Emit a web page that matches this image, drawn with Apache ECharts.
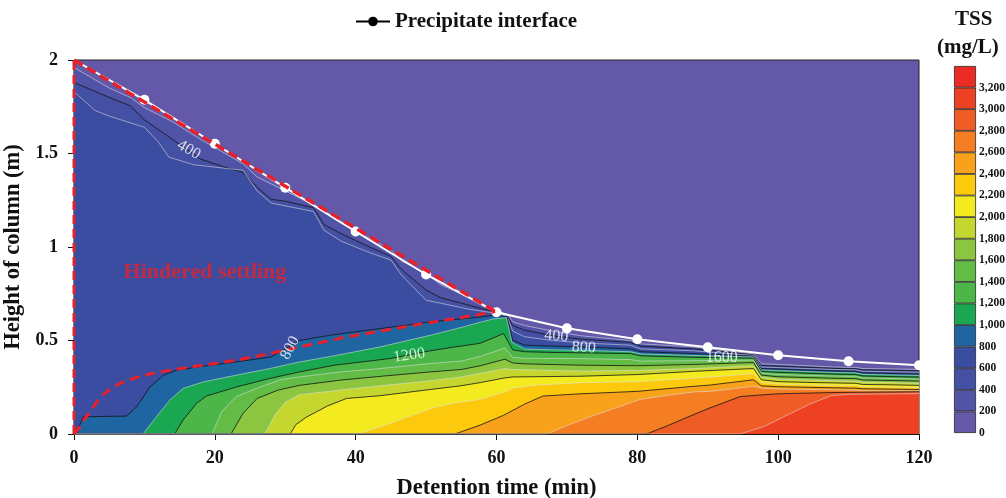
<!DOCTYPE html>
<html>
<head>
<meta charset="utf-8">
<script src="https://cdn.jsdelivr.net/npm/echarts@6/dist/echarts.min.js"></script>
<style>
  html, body { margin: 0; padding: 0; background: #fff; }
  #chart { width: 1006px; height: 498px; }
</style>
</head>
<body>
<div id="chart"></div>
<script>
// precipitate interface (white line with markers)
const interfaceTime = [0, 10, 20, 30, 40, 50, 60, 70, 80, 90, 100, 110, 120];
const interfaceHeight = [2.0, 1.787, 1.552, 1.317, 1.083, 0.853, 0.651, 0.565, 0.507, 0.464, 0.421, 0.389, 0.368];

// red dashed boundary of the hindered settling zone (lower curve)
const hinderedCurve = [[0, 0], [0.85, 0.039], [1.5, 0.08], [2.3, 0.119], [3.2, 0.17], [4.2, 0.212], [5.3, 0.245], [6.5, 0.27],
  [7.7, 0.288], [8.9, 0.302], [11, 0.323], [13.6, 0.341], [18.4, 0.368], [23.1, 0.395], [27.8, 0.43], [32.1, 0.466],
  [38.7, 0.519], [48.2, 0.581], [57.7, 0.64], [59.8, 0.655]];

// contour boundaries: height below which TSS exceeds the level, [time, height]
const tss200 = [[0, 1.96], [5, 1.85], [8, 1.8], [10, 1.745], [14, 1.67], [18, 1.575], [24, 1.445], [26, 1.375], [30, 1.3],
  [34, 1.225], [35.5, 1.185], [38, 1.125], [42, 1.045], [45, 0.985], [46.5, 0.925], [50, 0.86], [52, 0.8], [56, 0.73],
  [59.5, 0.67], [61.5, 0.64], [62.3, 0.6], [64, 0.58], [68, 0.55], [72, 0.525], [79, 0.5], [80.5, 0.482], [88, 0.466],
  [96.5, 0.428], [97.6, 0.375], [100, 0.372], [104, 0.365], [108, 0.358], [111, 0.356], [112, 0.35], [116, 0.348], [120, 0.345]];
const tss400 = [[0, 1.88], [5, 1.8], [8, 1.755], [10, 1.68], [14, 1.575], [18, 1.47], [22, 1.42], [24, 1.4], [26, 1.32],
  [28, 1.255], [30, 1.245], [34, 1.21], [35.5, 1.12], [38, 1.07], [42, 1.0], [45, 0.95], [46.5, 0.88], [50, 0.77], [52, 0.73],
  [56, 0.69], [59.5, 0.655], [61.5, 0.635], [62.3, 0.58], [64, 0.555], [68, 0.525], [72, 0.507], [79, 0.49], [80.5, 0.47],
  [88, 0.455], [96.5, 0.424], [97.6, 0.366], [100, 0.363], [104, 0.357], [108, 0.351], [111, 0.349], [112, 0.343], [116, 0.341], [120, 0.338]];
const tss600 = [[0, 1.83], [3, 1.73], [5, 1.7], [10, 1.64], [12, 1.56], [13.5, 1.48], [17, 1.44], [24, 1.41], [26, 1.3],
  [28, 1.235], [34, 1.19], [35.5, 1.09], [38, 1.03], [42, 0.97], [45, 0.93], [46.5, 0.85], [50, 0.715], [52, 0.7], [56, 0.668],
  [59.5, 0.648], [61.5, 0.63], [62.3, 0.55], [64, 0.52], [68, 0.5], [72, 0.487], [79, 0.475], [80.5, 0.455], [88, 0.445],
  [96.5, 0.42], [97.6, 0.358], [100, 0.355], [104, 0.35], [108, 0.345], [111, 0.343], [112, 0.335], [116, 0.333], [120, 0.33]];
const tss800 = [[0, 0], [0.3, 0], [1.3, 0.092], [7.5, 0.096], [8.9, 0.146], [10.8, 0.252], [12.7, 0.315], [14.6, 0.341],
  [18.4, 0.363], [23.1, 0.386], [28, 0.412], [30, 0.455], [32, 0.5], [36.4, 0.528], [43.5, 0.564], [50.6, 0.599], [57.7, 0.626],
  [59.5, 0.635], [61.5, 0.628], [62.3, 0.5], [64, 0.475], [68, 0.47], [72, 0.466], [79, 0.455], [80.5, 0.44], [88, 0.43],
  [96.5, 0.416], [97.6, 0.35], [100, 0.347], [104, 0.342], [108, 0.337], [111, 0.335], [112, 0.327], [116, 0.324], [120, 0.321]];
const tss1000 = [[0, 0], [9.8, 0], [11.7, 0.092], [13.6, 0.181], [15.5, 0.244], [18.4, 0.279], [23.1, 0.315], [27.8, 0.35],
  [32, 0.385], [36.5, 0.415], [43.5, 0.466], [50.6, 0.528], [55, 0.57], [57.7, 0.598], [59.5, 0.615], [61.4, 0.622], [62.2, 0.49],
  [64, 0.455], [68, 0.45], [72, 0.448], [79, 0.44], [80.5, 0.428], [88, 0.42], [96.5, 0.412], [97.6, 0.342], [100, 0.339],
  [104, 0.334], [108, 0.329], [111, 0.327], [112, 0.319], [116, 0.316], [120, 0.313]];
const tss1200 = [[0, 0], [14.3, 0], [15.5, 0.075], [17.4, 0.164], [18.8, 0.203], [23.1, 0.252], [27.8, 0.297], [32, 0.332],
  [37, 0.368], [45, 0.404], [50.6, 0.445], [54, 0.465], [57.7, 0.485], [61, 0.537], [62.3, 0.45], [64, 0.44], [68, 0.436],
  [72, 0.434], [79, 0.43], [80.5, 0.418], [88, 0.41], [96.5, 0.405], [97.6, 0.335], [100, 0.33], [104, 0.325], [108, 0.32],
  [111, 0.318], [112, 0.31], [116, 0.307], [120, 0.304]];
const tss1400 = [[0, 0], [19.6, 0], [21, 0.12], [23, 0.2], [26, 0.245], [29.3, 0.29], [32, 0.305], [37.8, 0.332], [43.5, 0.35],
  [50.6, 0.377], [55, 0.39], [57.7, 0.415], [61.2, 0.46], [62.3, 0.41], [64, 0.405], [72, 0.403], [79, 0.398], [80.5, 0.39],
  [88, 0.392], [96.5, 0.395], [97.6, 0.325], [100, 0.318], [104, 0.314], [108, 0.31], [111, 0.308], [112, 0.3], [116, 0.297], [120, 0.294]];
const tss1600 = [[0, 0], [22.3, 0], [24, 0.11], [26, 0.19], [29, 0.235], [32, 0.26], [37.8, 0.288], [44, 0.31], [50.6, 0.332],
  [55, 0.345], [57.7, 0.365], [61.2, 0.4], [62.3, 0.38], [64, 0.375], [72, 0.368], [80, 0.365], [88, 0.372], [96.5, 0.382],
  [97.6, 0.315], [100, 0.306], [104, 0.302], [108, 0.298], [111, 0.296], [112, 0.289], [116, 0.286], [120, 0.283]];
const tss1800 = [[0, 0], [27.1, 0], [28.5, 0.1], [30, 0.17], [32, 0.21], [37.8, 0.235], [44, 0.26], [50.6, 0.285], [55, 0.305],
  [57.7, 0.325], [61.2, 0.35], [62.3, 0.345], [72, 0.337], [80, 0.34], [88, 0.35], [96.5, 0.365], [97.6, 0.303], [100, 0.293],
  [104, 0.289], [108, 0.285], [111, 0.283], [112, 0.277], [116, 0.275], [120, 0.272]];
const tss2000 = [[0, 0], [30.7, 0], [31.5, 0.05], [33, 0.09], [36, 0.15], [38.7, 0.19], [43.5, 0.205], [50.6, 0.238], [55, 0.258],
  [57.7, 0.275], [61.2, 0.3], [62.3, 0.305], [72, 0.309], [80, 0.318], [88, 0.335], [96.5, 0.35], [97.6, 0.29], [100, 0.28],
  [104, 0.276], [108, 0.273], [111, 0.271], [112, 0.265], [116, 0.263], [120, 0.26]];
const tss2200 = [[0, 0], [40.3, 0], [44, 0.045], [47.5, 0.092], [51, 0.14], [54, 0.165], [57.7, 0.185], [61.2, 0.225], [62.3, 0.245],
  [66, 0.262], [72, 0.274], [80, 0.28], [88, 0.298], [96.5, 0.322], [97.6, 0.275], [100, 0.267], [104, 0.263], [108, 0.26],
  [111, 0.258], [112, 0.253], [116, 0.251], [120, 0.249]];
const tss2400 = [[0, 0], [54.1, 0], [57.7, 0.048], [61, 0.1], [64, 0.16], [66.6, 0.203], [72, 0.215], [80, 0.228], [88, 0.255],
  [90.4, 0.262], [96.5, 0.29], [97.6, 0.258], [100, 0.253], [104, 0.25], [108, 0.247], [111, 0.245], [112, 0.242], [116, 0.24], [120, 0.238]];
const tss2600 = [[0, 0], [67.1, 0], [70, 0.045], [73.3, 0.092], [77, 0.14], [80.4, 0.185], [84, 0.205], [88, 0.225], [90.4, 0.228],
  [96.5, 0.255], [97.6, 0.245], [100, 0.24], [104, 0.238], [108, 0.236], [111, 0.234], [112, 0.232], [116, 0.231], [120, 0.23]];
const tss2800 = [[0, 0], [81.3, 0], [84, 0.04], [87, 0.088], [90, 0.135], [94.6, 0.2], [96.9, 0.207], [100, 0.215], [108, 0.222], [120, 0.226]];
const tss3000 = [[0, 0], [94.6, 0], [98, 0.04], [101.5, 0.105], [104.5, 0.16], [107.6, 0.206], [110, 0.212], [120, 0.216]];

// colour bar
const cbLevels = [0, 200, 400, 600, 800, 1000, 1200, 1400, 1600, 1800, 2000, 2200, 2400, 2600, 2800, 3000, 3200];
const bandColors = ['#6459a9', '#5053a6', '#4450a3', '#3a4da0', '#1f65a2', '#1aa751', '#4cb748', '#62bc46', '#8cc540',
  '#c5d72e', '#f3ea1f', '#fdc90d', '#f8a21c', '#f47e21', '#f05c25', '#ee4123', '#ec2b24'];

// contour value labels: [time, height, text, rotation]
const contourLabels = [[16.3, 1.52, '400', -30], [30.7, 0.46, '800', 62], [47.6, 0.42, '1200', 8],
  [68.5, 0.523, '400', -4], [72.4, 0.462, '800', -4], [92, 0.405, '1600', 0]];

const FONT = '"Liberation Serif", "Times New Roman", serif';

const contours = [
  { level: 200, data: tss200 }, { level: 400, data: tss400 }, { level: 600, data: tss600 },
  { level: 800, data: tss800 }, { level: 1000, data: tss1000 }, { level: 1200, data: tss1200 },
  { level: 1400, data: tss1400 }, { level: 1600, data: tss1600 }, { level: 1800, data: tss1800 },
  { level: 2000, data: tss2000 }, { level: 2200, data: tss2200 }, { level: 2400, data: tss2400 },
  { level: 2600, data: tss2600 }, { level: 2800, data: tss2800 }, { level: 3000, data: tss3000 }
];

const series = [];

contours.forEach(function (c) {
  const idx = cbLevels.indexOf(c.level);
  series.push({
    type: 'line',
    xAxisIndex: 0,
    yAxisIndex: 0,
    data: c.data,
    showSymbol: false,
    silent: true,
    z: 1,
    lineStyle: {
      color: c.level % 400 === 0 ? '#141414' : 'rgba(225,225,230,0.7)',
      width: 0.8
    },
    areaStyle: { color: bandColors[idx], opacity: 1 }
  });
});

series.push({
  name: 'Precipitate interface',
  type: 'line',
  xAxisIndex: 0,
  yAxisIndex: 0,
  data: interfaceTime.map(function (t, i) {
    return i === 0 ? { value: [t, interfaceHeight[i]], symbol: 'none' } : [t, interfaceHeight[i]];
  }),
  symbol: 'circle',
  symbolSize: 10,
  itemStyle: { color: '#fff' },
  lineStyle: { color: '#fff', width: 2 },
  z: 5
});

// red dashed lines
series.push({
  type: 'line', xAxisIndex: 0, yAxisIndex: 0, z: 6, silent: true, showSymbol: false,
  data: [[0, 0], [0, 2]],
  lineStyle: { color: '#e8202a', width: 3, type: [9, 5] }
});
series.push({
  type: 'line', xAxisIndex: 0, yAxisIndex: 0, z: 6, silent: true, showSymbol: false,
  data: [[0, interfaceHeight[0]], [60, interfaceHeight[6]]],
  lineStyle: { color: '#e8202a', width: 3.5, type: [10, 5] }
});
series.push({
  type: 'line', xAxisIndex: 0, yAxisIndex: 0, z: 6, silent: true, showSymbol: false,
  data: hinderedCurve,
  lineStyle: { color: '#e8202a', width: 3, type: [10, 6] }
});

// contour labels
series.push({
  type: 'scatter', xAxisIndex: 0, yAxisIndex: 0, z: 7, silent: true, symbolSize: 0,
  data: contourLabels.map(function (d) {
    return {
      value: [d[0], d[1]],
      label: {
        show: true, position: 'inside', formatter: d[2], rotate: d[3],
        color: '#fff', fontFamily: FONT, fontSize: 16
      }
    };
  })
});

// zone name
series.push({
  type: 'scatter', xAxisIndex: 0, yAxisIndex: 0, z: 7, silent: true, symbolSize: 0,
  data: [{
    value: [18.6, 0.864],
    label: {
      show: true, position: 'inside', formatter: 'Hindered settling',
      color: '#e8202a', fontFamily: FONT, fontWeight: 'bold', fontSize: 22
    }
  }]
});

// colour bar as stacked bars
cbLevels.forEach(function (lv, i) {
  series.push({
    type: 'bar',
    xAxisIndex: 1,
    yAxisIndex: 1,
    stack: 'cb',
    barWidth: '100%',
    silent: true,
    data: [200],
    itemStyle: { color: bandColors[i], borderColor: '#2a2a2a', borderWidth: 0.8 }
  });
});

const chart = echarts.init(document.getElementById('chart'));
chart.setOption({
  animation: false,
  backgroundColor: '#fff',
  title: [
    { text: 'TSS', left: 950, top: 4, textStyle: { fontFamily: FONT, fontWeight: 'bold', fontSize: 21, color: '#111' } },
    { text: '(mg/L)', left: 932, top: 32, textStyle: { fontFamily: FONT, fontWeight: 'bold', fontSize: 21, color: '#111' } }
  ],
  legend: {
    left: 350,
    top: 6,
    itemWidth: 34,
    itemHeight: 12,
    itemGap: 8,
    textStyle: { fontFamily: FONT, fontWeight: 'bold', fontSize: 21, color: '#111' },
    data: [{ name: 'Precipitate interface', itemStyle: { color: '#000' }, lineStyle: { color: '#000', width: 2 } }]
  },
  grid: [
    {
      left: 74, right: 87, top: 60, bottom: 64, outerBoundsMode: 'none',
      show: true, backgroundColor: bandColors[0], borderColor: '#222', borderWidth: 1
    },
    { left: 954, width: 22, top: 66, bottom: 65, outerBoundsMode: 'none' }
  ],
  xAxis: [
    {
      type: 'value', gridIndex: 0, min: 0, max: 120, interval: 20,
      name: 'Detention time (min)', nameLocation: 'middle', nameGap: 43,
      nameTextStyle: { fontFamily: FONT, fontWeight: 'bold', fontSize: 22.5, color: '#111' },
      axisLine: { lineStyle: { color: '#111', width: 1.2 } },
      axisTick: { length: 6, lineStyle: { color: '#111' } },
      axisLabel: { fontFamily: FONT, fontWeight: 'bold', fontSize: 18, color: '#111', margin: 15 },
      splitLine: { show: false }
    },
    { type: 'category', gridIndex: 1, data: ['TSS'], show: false }
  ],
  yAxis: [
    {
      type: 'value', gridIndex: 0, min: 0, max: 2, interval: 0.5,
      name: 'Height of column (m)', nameLocation: 'middle', nameGap: 48, nameRotate: 90,
      nameTextStyle: { fontFamily: FONT, fontWeight: 'bold', fontSize: 22.5, color: '#111' },
      axisLine: { lineStyle: { color: '#111', width: 1.2 } },
      axisTick: { length: 6, lineStyle: { color: '#111' } },
      axisLabel: { fontFamily: FONT, fontWeight: 'bold', fontSize: 18, color: '#111', margin: 16 },
      splitLine: { show: false }
    },
    {
      type: 'value', gridIndex: 1, min: 0, max: 3400, interval: 200, position: 'right',
      axisLine: { show: false }, axisTick: { show: false }, splitLine: { show: false },
      axisLabel: {
        showMaxLabel: false, margin: 3, fontFamily: FONT, fontWeight: 'bold', fontSize: 11.5, color: '#111',
        formatter: function (v) { return v.toLocaleString('en-US'); }
      }
    }
  ],
  series: series
});
</script>
</body>
</html>
